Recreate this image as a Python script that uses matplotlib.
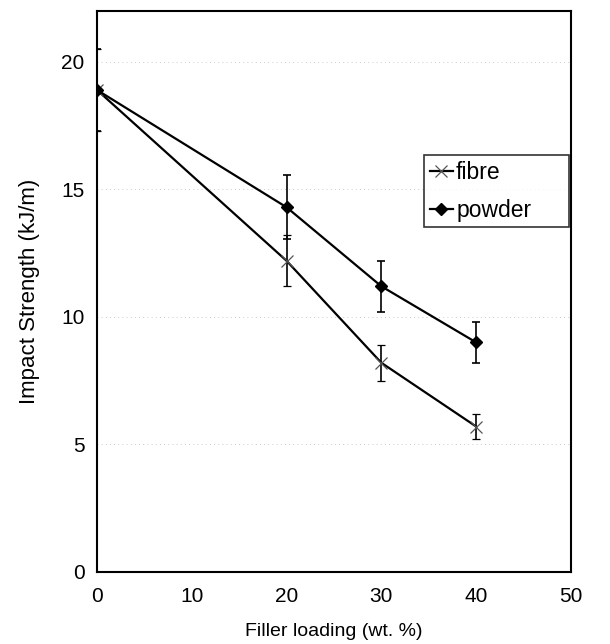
import matplotlib.pyplot as plt
from matplotlib.lines import Line2D

plt.rcParams['font.family'] = ['Liberation Sans', 'DejaVu Sans']

loading = [0, 20, 30, 40]
fibre = [18.9, 12.2, 8.2, 5.7]
fibre_err = [1.6, 1.0, 0.7, 0.5]
powder = [18.9, 14.3, 11.2, 9.0]
powder_err = [1.6, 1.25, 1.0, 0.8]

fig = plt.figure(figsize=(6.10, 6.44), dpi=100)
ax = fig.add_axes([0.159, 0.112, 0.777, 0.871])

# faint dotted grid like the original printout
for yv in [5, 10, 15, 20]:
    ax.axhline(yv, color='#bbbbbb', linestyle=(0, (1, 4)), linewidth=0.6, zorder=0)

fibre_style = dict(color='black', linewidth=1.6, marker='x', markersize=9,
                   markeredgewidth=0.9, markeredgecolor='#555555')
powder_style = dict(color='black', linewidth=1.6, marker='D', markersize=6)

ax.errorbar(loading, fibre, yerr=fibre_err, ecolor='black', elinewidth=1.2,
            capsize=3, capthick=1.2, **fibre_style)
ax.errorbar(loading, powder, yerr=powder_err, ecolor='black', elinewidth=1.2,
            capsize=3, capthick=1.2, **powder_style)

ax.set_xlim(0, 50)
ax.set_ylim(0, 22)
ax.set_xticks([0, 10, 20, 30, 40, 50])
ax.set_yticks([0, 5, 10, 15, 20])
ax.tick_params(length=0, labelsize=15)
ax.tick_params(axis='x', pad=11)
ax.tick_params(axis='y', pad=9)
for s in ax.spines.values():
    s.set_linewidth(1.5)

ax.set_xlabel('Filler loading (wt. %)', fontsize=14, labelpad=12)
ax.set_ylabel('Impact Strength (kJ/m)', fontsize=16, labelpad=15)

handles = [Line2D([], [], **fibre_style), Line2D([], [], **powder_style)]
leg = ax.legend(handles, ['fibre', 'powder'], loc='upper left',
                bbox_to_anchor=(0.690, 0.619, 0.306, 0.124), mode='expand',
                borderaxespad=0, fontsize=16.5, frameon=True, fancybox=False,
                handlelength=1.0, handletextpad=0.15, borderpad=0.25,
                labelspacing=0.65)
leg.get_frame().set_edgecolor('black')
leg.get_frame().set_linewidth(1.2)

plt.savefig('out.png', dpi=100)
